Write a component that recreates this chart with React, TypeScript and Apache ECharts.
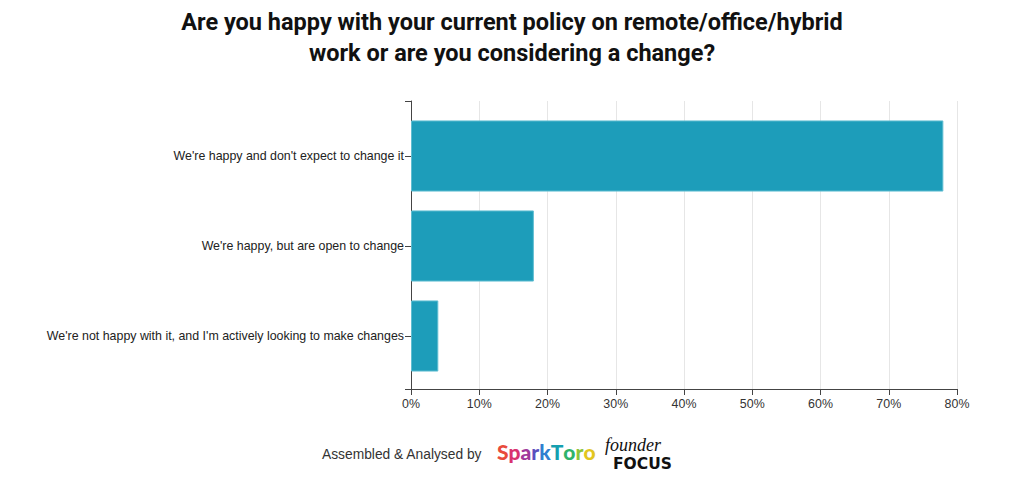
import React, { useEffect, useRef } from 'react';
import * as echarts from 'echarts';

const categories = [
  "We're happy and don't expect to change it",
  "We're happy, but are open to change",
  "We're not happy with it, and I'm actively looking to make changes",
];
const shares = [78, 18, 4];
const title = 'Are you happy with your current policy on remote/office/hybrid\nwork or are you considering a change?';
const credit = 'Assembled & Analysed by';
const sparkLetters = ['S', 'p', 'a', 'r', 'k', 'T', 'o', 'r', 'o'];
const sparkColors = ['#e94b3c', '#d9336f', '#a0399b', '#5a4fbf', '#2f7fd0', '#159fb0', '#2fb36a', '#8cc43a', '#e2c61f'];

const plotLeft = 411;
const plotWidth = 546;

export default function App() {
  const chartRef = useRef<HTMLDivElement>(null);

  useEffect(() => {
    document.body.style.margin = '0';
    if (!chartRef.current) return;
    const chart = echarts.init(chartRef.current, null, { renderer: 'svg' });

    const rich: Record<string, any> = {};
    sparkLetters.forEach((_, i) => {
      rich['c' + i] = { fill: sparkColors[i], fontSize: 21, fontWeight: 900, fontFamily: 'Lato' };
    });
    const sparkText = sparkLetters.map((l, i) => `{c${i}|${l}}`).join('');

    const option: echarts.EChartsOption = {
      animation: false,
      backgroundColor: '#ffffff',
      textStyle: { fontFamily: '"Liberation Sans", Arial, sans-serif' },
      title: {
        text: title,
        left: 'center',
        top: 1,
        textStyle: {
          fontFamily: 'Roboto',
          fontSize: 23.5,
          fontWeight: 'bold',
          color: '#111111',
          lineHeight: 31,
        },
      },
      grid: [
        { left: plotLeft, top: 101, width: plotWidth, height: 288 },
        { left: plotLeft, top: 111, width: plotWidth, height: 270 },
      ],
      xAxis: [
        {
          type: 'value',
          gridIndex: 0,
          min: 0,
          max: 80,
          interval: 10,
          axisLine: { show: true, lineStyle: { color: '#444444', width: 1 } },
          axisTick: { show: true, length: 6, lineStyle: { color: '#444444' } },
          axisLabel: { formatter: '{value}%', color: '#333333', fontSize: 12.4, margin: 9 },
          splitLine: { show: true, lineStyle: { color: '#e6e6e6', width: 1 } },
        },
        {
          type: 'value',
          gridIndex: 1,
          min: 0,
          max: 80,
          show: false,
        },
      ],
      yAxis: [
        {
          type: 'value',
          gridIndex: 0,
          min: 0,
          max: 1,
          interval: 1,
          axisLine: { show: true, lineStyle: { color: '#444444', width: 1 } },
          axisTick: { show: true, length: 6, lineStyle: { color: '#444444' } },
          axisLabel: { show: false },
          splitLine: { show: false },
        },
        {
          type: 'category',
          gridIndex: 1,
          data: categories,
          inverse: true,
          axisLine: { show: false },
          axisTick: { show: true, length: 6, alignWithLabel: true, lineStyle: { color: '#444444' } },
          axisLabel: { color: '#222222', fontSize: 12.4, margin: 7 },
        },
      ],
      series: [
        {
          type: 'bar',
          xAxisIndex: 1,
          yAxisIndex: 1,
          data: shares,
          barCategoryGap: '21%',
          itemStyle: { color: '#1d9dba', borderColor: '#5fbdd1', borderWidth: 1 },
        },
      ],
      graphic: [
        {
          type: 'text',
          left: 322,
          top: 447,
          style: { text: credit, fontSize: 13.8, fill: '#333333', fontFamily: '"Liberation Sans", Arial, sans-serif' },
        },
        {
          type: 'text',
          left: 497,
          top: 441,
          style: { text: sparkText, rich, fontSize: 21, fontWeight: 900, fontFamily: 'Lato' },
        },
        {
          type: 'text',
          left: 605,
          top: 436,
          style: { text: 'founder', fontSize: 18, fontStyle: 'italic', fill: '#111111', fontFamily: '"Liberation Serif", serif' },
        },
        {
          type: 'text',
          left: 613,
          top: 456,
          style: { text: 'FOCUS', fontSize: 15.5, fontWeight: 900, fill: '#111111', fontFamily: '"DejaVu Sans", sans-serif' },
        },
      ],
    };

    chart.setOption(option);
    return () => {
      chart.dispose();
    };
  }, []);

  return <div ref={chartRef} style={{ width: '1024px', height: '497px' }} />;
}
